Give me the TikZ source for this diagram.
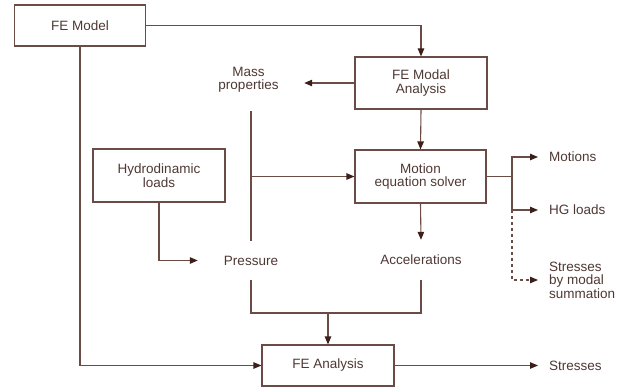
\documentclass[tikz,border=0pt]{standalone}
\usepackage{fontspec}
\setmainfont{Liberation Sans}
\usetikzlibrary{arrows.meta}
\definecolor{lncol}{HTML}{6B4B45}
\definecolor{tipcol}{HTML}{3D1F1A}
\definecolor{txtcol}{HTML}{4E3833}
\begin{document}
\begin{tikzpicture}[x=1pt,y=-1pt,
  every node/.style={text=txtcol,font=\fontsize{13.5}{13.5}\selectfont,align=center},
  boxnode/.style={draw=lncol,line width=1.1pt,inner sep=0pt},
  lbl/.style={inner sep=0pt},
  outlbl/.style={anchor=west,inner xsep=11pt,inner ysep=0pt,align=left},
  ln/.style={draw=lncol,line width=1.1pt},
  arr/.style={ln,-{Triangle[length=8pt,width=6.5pt,color=tipcol]}}]
\useasboundingbox (0,0) rectangle (620,387);
% boxes
\node[boxnode,minimum width=131pt,minimum height=41pt] (fem) at (80,25.5) {FE Model};
\node[boxnode,minimum width=132pt,minimum height=52pt] (modal) at (421,83) {FE Modal\\Analysis};
\node[boxnode,minimum width=131pt,minimum height=53pt] (motion) at (420.5,176.5) {Motion\\equation solver};
\node[boxnode,minimum width=132pt,minimum height=53pt] (hydro) at (159,175.5) {Hydrodinamic\\loads};
\node[boxnode,minimum width=132pt,minimum height=41pt] (fea) at (328,365.5) {FE Analysis};
% plain labels
\node[lbl,minimum width=111pt,minimum height=62pt] (mass) at (248.5,80) {Mass\\properties};
\node[lbl,minimum width=106pt,minimum height=39pt] (pressure) at (251,260.5) {Pressure};
\node[lbl,minimum width=90pt,minimum height=40pt] (accel) at (421,260) {Accelerations};
\node[outlbl] (motions) at (538,157) {Motions};
\node[outlbl] (hg) at (538,210) {HG loads};
\node[outlbl] (ssum) at (538,280) {Stresses\\by modal\\summation};
\node[outlbl] (stress) at (538,365.5) {Stresses};
% junctions
\coordinate (b) at (512,176.5);
\coordinate (j) at (328,313);
% connectors
\draw[arr] (fem.east) -| (modal.north);
\draw[arr] (modal.west) -- (mass.east |- modal.west);
\draw[arr] (modal.south) -- (motion.north);
\draw[ln] (pressure.north |- mass.south) -- (pressure.north);
\draw[arr] (pressure.north |- motion.west) -- (motion.west);
\draw[arr] (hydro.south) |- (pressure.west);
\draw[arr] (motion.south) -- (accel.north);
\draw[ln] (pressure.south) |- (j);
\draw[ln] (accel.south) |- (j);
\draw[arr] (j) -- (fea.north);
\draw[arr] (fem.south) |- (fea.west);
\draw[arr] (fea.east) -- (stress.west);
\draw[ln] (motion.east) -- (b);
\draw[arr] (b) |- (motions.west);
\draw[arr] (b) |- (hg.west);
\draw[arr,dash pattern=on 3pt off 3pt] (b |- hg.west) |- (ssum.west);
\end{tikzpicture}
\end{document}
